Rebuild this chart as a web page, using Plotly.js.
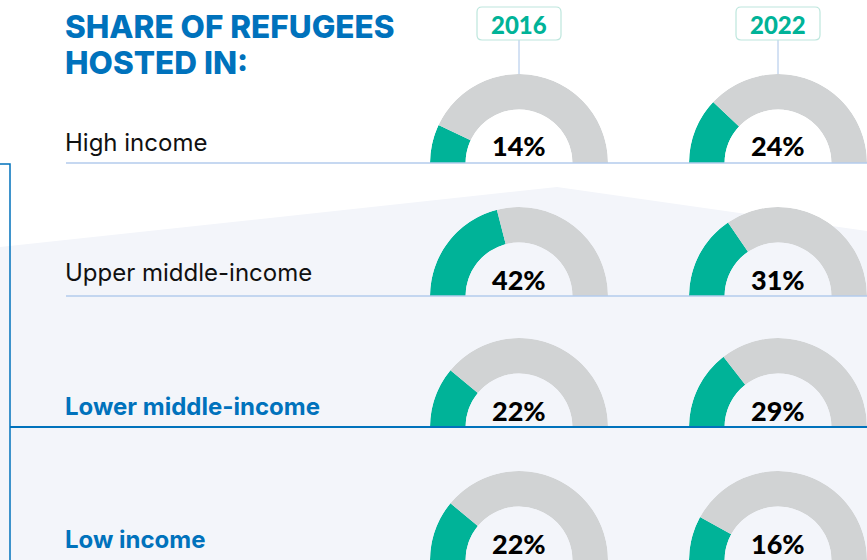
<!DOCTYPE html>
<html>
<head>
<meta charset="utf-8">
<script src="https://cdn.plot.ly/plotly-3.0.1.min.js"></script>
<style>
  html, body { margin: 0; padding: 0; background: #ffffff; }
  #chart { width: 867px; height: 560px; }
</style>
</head>
<body>
<div id="chart"></div>
<script>
// ---- data ----
const categories = ['High income', 'Upper middle-income', 'Lower middle-income', 'Low income'];
const years = ['2016', '2022'];
const share2016 = [14, 42, 22, 22];
const share2022 = [24, 31, 29, 16];
const chartTitle = ['SHARE OF REFUGEES', 'HOSTED IN:'];

// ---- layout helpers ----
const W = 867, H = 560;
const X = px => px / W;
const Y = py => 1 - py / H;
const GREEN = '#00B398', GREY = '#D1D3D4', BLUE = '#0072BC', BG = '#F3F5FA';
const FONT = 'Lato, "Open Sans", sans-serif';
const FONT2 = 'Inter, "Open Sans", sans-serif';
const colCx = [519, 778];
const rowBase = [163, 296, 427, 560];
const R = 89;
const seriesByYear = [share2016, share2022];

const traces = [];
const layout = {
  width: W, height: H,
  margin: { l: 0, r: 0, t: 0, b: 0 },
  paper_bgcolor: '#ffffff',
  plot_bgcolor: 'rgba(0,0,0,0)',
  showlegend: false,
  shapes: [],
  annotations: []
};

let k = 0;
categories.forEach((cat, i) => {
  years.forEach((yr, j) => {
    k += 1;
    const name = k === 1 ? 'polar' : 'polar' + k;
    const v = seriesByYear[j][i];
    const a = v * 180 / 100;
    traces.push({
      type: 'barpolar',
      subplot: name,
      r: [1, 1],
      theta: [a / 2, (a + 180) / 2],
      width: [a, 180 - a],
      base: [0, 0],
      marker: { color: [GREEN, GREY], line: { width: 0 } },
      hoverinfo: 'skip'
    });
    const cx = colCx[j], base = rowBase[i];
    layout[name] = {
      domain: { x: [Math.max(0, X(cx - R)), Math.min(1, X(cx + R))], y: [Math.max(0, Y(base)), Y(base - R)] },
      sector: [0, 180],
      hole: 0.6,
      bargap: 0,
      bgcolor: 'rgba(0,0,0,0)',
      radialaxis: { visible: false, range: [0, 1] },
      angularaxis: { visible: false, rotation: 180, direction: 'clockwise' }
    };
    layout.annotations.push({
      xref: 'paper', yref: 'paper', x: X(cx), y: Y(base - 17),
      xanchor: 'center', yanchor: 'middle', showarrow: false,
      text: v + '%',
      font: { family: FONT, size: 27, weight: 900, color: '#000000' }
    });
  });
});

// background polygon
layout.shapes.push({
  type: 'path', xref: 'paper', yref: 'paper', layer: 'below',
  path: `M ${X(0)},${Y(247)} L ${X(557)},${Y(187)} L ${X(867)},${Y(231)} L ${X(867)},${Y(560)} L ${X(0)},${Y(560)} Z`,
  fillcolor: BG, line: { width: 0 }
});
// row lines
[0, 1].forEach(i => {
  layout.shapes.push({
    type: 'line', xref: 'paper', yref: 'paper', layer: 'above',
    x0: X(66), x1: X(867), y0: Y(rowBase[i]), y1: Y(rowBase[i]),
    line: { color: '#B3CBEC', width: 1.5 }
  });
});
layout.shapes.push({
  type: 'line', xref: 'paper', yref: 'paper', layer: 'above',
  x0: X(10), x1: X(867), y0: Y(rowBase[2]), y1: Y(rowBase[2]),
  line: { color: BLUE, width: 2 }
});
layout.shapes.push({
  type: 'path', xref: 'paper', yref: 'paper', layer: 'above',
  path: `M ${X(0)},${Y(164)} L ${X(10)},${Y(164)} L ${X(10)},${Y(560)}`,
  line: { color: BLUE, width: 1.5 }
});

// year boxes
function roundRect(x0, y0, x1, y1, r) {
  return `M ${X(x0 + r)},${Y(y0)} L ${X(x1 - r)},${Y(y0)} Q ${X(x1)},${Y(y0)} ${X(x1)},${Y(y0 + r)} ` +
         `L ${X(x1)},${Y(y1 - r)} Q ${X(x1)},${Y(y1)} ${X(x1 - r)},${Y(y1)} ` +
         `L ${X(x0 + r)},${Y(y1)} Q ${X(x0)},${Y(y1)} ${X(x0)},${Y(y1 - r)} ` +
         `L ${X(x0)},${Y(y0 + r)} Q ${X(x0)},${Y(y0)} ${X(x0 + r)},${Y(y0)} Z`;
}
years.forEach((yr, j) => {
  const cx = colCx[j];
  layout.shapes.push({
    type: 'line', xref: 'paper', yref: 'paper', layer: 'below',
    x0: X(cx), x1: X(cx), y0: Y(40), y1: Y(rowBase[0] - R),
    line: { color: '#A9C4E8', width: 1 }
  });
  layout.shapes.push({
    type: 'path', xref: 'paper', yref: 'paper', layer: 'above',
    path: roundRect(cx - 42, 7, cx + 42, 40, 5),
    fillcolor: '#ffffff', line: { color: '#BDE6DD', width: 1.2 }
  });
  layout.annotations.push({
    xref: 'paper', yref: 'paper', x: X(cx), y: Y(25),
    xanchor: 'center', yanchor: 'middle', showarrow: false,
    text: yr, font: { family: FONT, size: 24, weight: 900, color: GREEN }
  });
});

// title
const titleY = [26, 62];
chartTitle.forEach((t, i) => {
  layout.annotations.push({
    xref: 'paper', yref: 'paper', x: X(63), y: Y(titleY[i]),
    xanchor: 'left', yanchor: 'middle', showarrow: false,
    text: t, font: { family: FONT2, size: 31.5, weight: 800, color: BLUE }
  });
});

// category labels
const labelY = [142, 272, 406, 539];
categories.forEach((c, i) => {
  const emph = i >= 2;
  layout.annotations.push({
    xref: 'paper', yref: 'paper', x: X(63), y: Y(labelY[i]),
    xanchor: 'left', yanchor: 'middle', showarrow: false,
    text: c,
    font: { family: FONT2, size: 24, weight: emph ? 700 : 400, color: emph ? BLUE : '#111111' }
  });
});

Plotly.newPlot('chart', traces, layout, { displayModeBar: false, staticPlot: true });
</script>
</body>
</html>
